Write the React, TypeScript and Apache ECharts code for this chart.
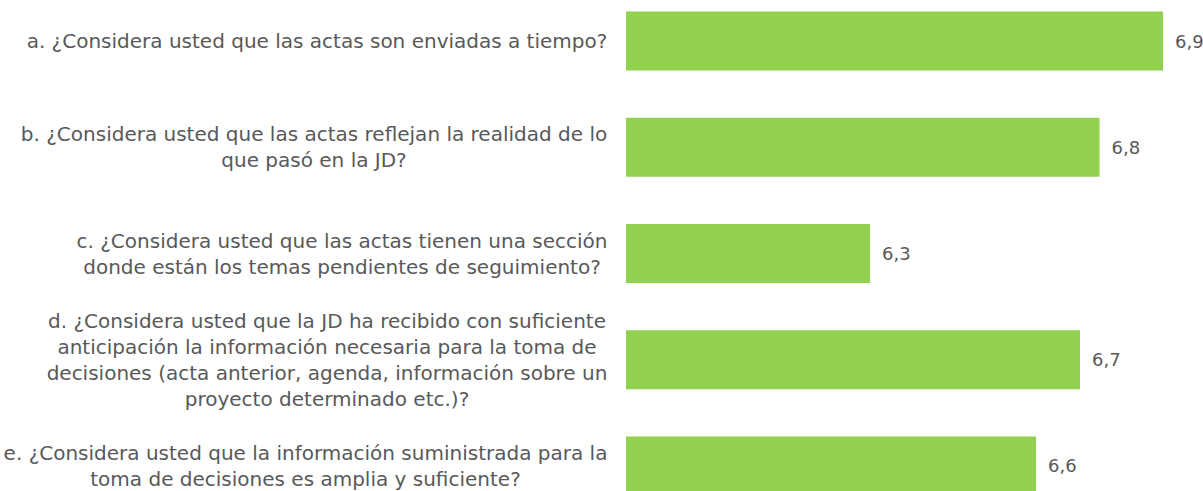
import React, { useEffect, useRef } from "react";
import * as echarts from "echarts";

const categories: string[][] = [
  ["a. ¿Considera usted que las actas son enviadas a tiempo?"],
  ["b. ¿Considera usted que las actas reflejan la realidad de lo", "que pasó en la JD?"],
  ["c. ¿Considera usted que las actas tienen una sección", "donde están los temas pendientes de seguimiento?"],
  [
    "d. ¿Considera usted que la JD ha recibido con suficiente",
    "anticipación la información necesaria para la toma de",
    "decisiones (acta anterior, agenda, información sobre un",
    "proyecto determinado etc.)?",
  ],
  ["e. ¿Considera usted que la información suministrada para la", "toma de decisiones es amplia y suficiente?"],
];
const values: number[] = [6.9, 6.77, 6.3, 6.73, 6.64];

const FONT = "DejaVu Sans";
const FONT_SIZE = 20;
const VALUE_FONT_SIZE = 18;
const TEXT_COLOR = "#595959";

export default function App() {
  const ref = useRef<HTMLDivElement>(null);
  useEffect(() => {
    if (!ref.current) return;
    const chart = echarts.init(ref.current, undefined, { renderer: "svg" });
    const cv = document.createElement("canvas");
    const ctx = cv.getContext("2d")!;
    ctx.font = `${FONT_SIZE}px "${FONT}"`;
    const rich: Record<string, any> = {};
    categories.forEach((lines, i) => {
      const w = Math.max(...lines.map((l) => ctx.measureText(l).width));
      rich["c" + i] = {
        width: Math.ceil(w) + 1,
        align: "center",
        fontFamily: FONT,
        fontSize: FONT_SIZE,
        color: TEXT_COLOR,
        lineHeight: 26,
      };
    });
    chart.setOption({
      animation: false,
      grid: { left: 626, right: 40, top: 0, bottom: 0, containLabel: false },
      xAxis: {
        type: "value",
        min: 5.8,
        max: 6.9,
        show: false,
      },
      yAxis: {
        type: "category",
        inverse: true,
        data: categories.map((_, i) => String(i)),
        axisLine: { show: false },
        axisTick: { show: false },
        splitLine: { show: false },
        axisLabel: {
          margin: 18,
          align: "right",
          interval: 0,
          formatter: (_v: string, idx: number) =>
            categories[idx].map((l) => `{c${idx}|${l}}`).join("\n"),
          rich,
        },
      },
      series: [
        {
          type: "bar",
          data: values,
          barWidth: 59,
          itemStyle: { color: "#92D050" },
          label: {
            show: true,
            position: "right",
            distance: 12,
            fontFamily: FONT,
            fontSize: VALUE_FONT_SIZE,
            color: TEXT_COLOR,
            formatter: (p: any) => p.value.toFixed(1).replace(".", ","),
          },
        },
      ],
    });
    return () => chart.dispose();
  }, []);
  return (
    <div
      ref={ref}
      style={{ position: "fixed", left: 0, top: -12, width: 1203, height: 531, background: "#fff" }}
    />
  );
}
